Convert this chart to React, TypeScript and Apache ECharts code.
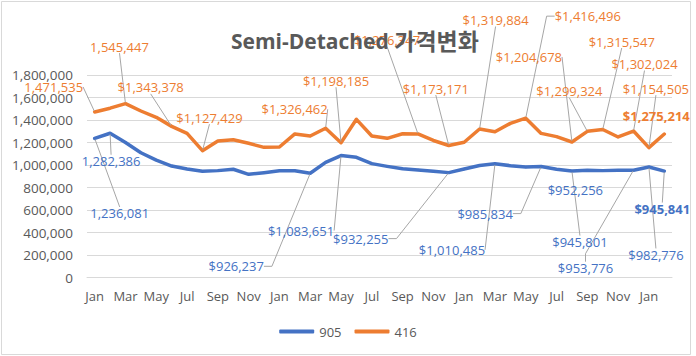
import { useEffect, useRef } from 'react';
import * as echarts from 'echarts';

const MONTHS = ['Jan', 'Feb', 'Mar', 'Apr', 'May', 'Jun', 'Jul', 'Aug', 'Sep', 'Oct', 'Nov', 'Dec'];
const categories: string[] = Array.from({ length: 38 }, (_, i) => MONTHS[i % 12]);

const TITLE_EN = 'Semi-Detached';
const TITLE_KO = '가격변화';
const seriesNames = ['905', '416'];

const values905 = [
  1236081, 1282386, 1200000, 1109000, 1044000, 991000, 964000, 944000, 950000, 962000, 917000, 932000,
  949000, 949000, 926237, 1024000, 1083651, 1068000, 1012000, 988000, 967000, 956000, 944000, 932255,
  964000, 996000, 1010485, 994000, 982000, 985834, 962000, 945801, 952256, 950000, 953000, 953776,
  982776, 945841,
];

const values416 = [
  1471535, 1505000, 1545447, 1480000, 1424000, 1343378, 1281000, 1127429, 1213000, 1225000, 1193000, 1157000,
  1160000, 1276000, 1258000, 1326462, 1198185, 1406000, 1258000, 1237000, 1278000, 1276347, 1218000, 1173171,
  1202000, 1319884, 1296000, 1370000, 1416496, 1281000, 1252000, 1204678, 1299324, 1315547, 1249000, 1302024,
  1154505, 1275214,
];

const yMin = 0;
const yMax = 1800000;
const yStep = 200000;

// label placement (styling): [dataIndex, dx, dy, dollar, bold, leader, hookLength]
type LabelCfg = [number, number, number, boolean, boolean, boolean, number];
const labels416: LabelCfg[] = [
  [0, -41, -25, false, false, true, 0],
  [2, -6, -57, false, false, true, 0],
  [5, -21, -39, true, false, true, 0],
  [7, 7, -33, true, false, true, 0],
  [15, -31, -19, true, false, true, 0],
  [16, -5, -62, true, false, true, 0],
  [21, -31, -94, true, false, true, 0],
  [23, -13, -57, true, false, true, 0],
  [25, 16, -109, true, false, true, 0],
  [28, 62, -102, true, false, true, 8],
  [31, -43, -85, true, false, true, 0],
  [32, -18, -40, true, false, true, 0],
  [33, 19, -88, true, false, true, 0],
  [35, 11, -67, true, false, true, 0],
  [36, 7, -59, true, false, true, 0],
  [37, -8, -18, true, true, false, 0],
];
const labels905: LabelCfg[] = [
  [0, 25, 75, false, false, true, 0],
  [1, 1, 28, false, false, true, 0],
  [14, -74, 93, true, false, true, 8],
  [16, -40, 75, true, false, true, 0],
  [23, -88, 66, true, false, true, 8],
  [26, -43, 86, true, false, true, 0],
  [29, -56, 47, true, false, true, 8],
  [31, 8, 71, true, false, true, 0],
  [32, -12, 20, true, false, false, 0],
  [35, -48, 98, true, false, true, 8],
  [36, 7, 88, true, false, true, 0],
  [37, -2, 38, true, true, true, 0],
];

const FONT = "'Open Sans', 'Noto Sans CJK KR', sans-serif";
const GRAY_TEXT = '#595959';
const GRID_COLOR = '#D9D9D9';
const BLUE = '#4472C4';
const ORANGE = '#ED7D31';

function buildData(values: number[], cfgs: LabelCfg[], color: string) {
  const map = new Map<number, LabelCfg>();
  cfgs.forEach((c) => map.set(c[0], c));
  return values.map((v, i) => {
    const c = map.get(i);
    if (!c) return { value: v, label: { show: false }, labelLine: { show: false } };
    const text = (c[3] ? '$' : '') + v.toLocaleString('en-US');
    return {
      value: v,
      label: {
        show: true,
        formatter: text,
        fontWeight: c[4] ? 'bold' : 'normal',
        color,
      },
      labelLine: { show: c[5], length2: c[6] },
    };
  });
}

function layoutFor(cfgs: LabelCfg[]) {
  const map = new Map<number, LabelCfg>();
  cfgs.forEach((c) => map.set(c[0], c));
  return (p: any) => {
    const c = map.get(p.dataIndex);
    return c ? { dx: c[1], dy: c[2] } : {};
  };
}

export default function App() {
  const ref = useRef<HTMLDivElement>(null);
  useEffect(() => {
    if (!ref.current) return;
    const chart = echarts.init(ref.current, undefined, { renderer: 'svg' });
    const commonLabel = {
      position: 'inside',
      fontSize: 13,
      fontFamily: FONT,
      textBorderColor: 'transparent',
      textBorderWidth: 0,
    };
    const commonLine = {
      lineStyle: { color: '#A6A6A6', width: 1 },
      smooth: false,
    };
    chart.setOption({
      animation: false,
      backgroundColor: '#ffffff',
      title: {
        text: `{en|${TITLE_EN}} {ko|${TITLE_KO}}`,
        left: 226,
        top: 24,
        textStyle: {
          fontFamily: FONT,
          fontSize: 21,
          fontWeight: 'bold',
          color: GRAY_TEXT,
          rich: {
            en: { fontFamily: FONT, fontSize: 21, fontWeight: 'bold', color: GRAY_TEXT },
            ko: { fontFamily: FONT, fontSize: 23, fontWeight: 'bold', color: GRAY_TEXT },
          },
        },
      },
      legend: {
        data: seriesNames,
        left: 'center',
        top: 320,
        icon: 'roundRect',
        itemWidth: 35,
        itemHeight: 4,
        itemGap: 13,
        textStyle: { fontFamily: FONT, fontSize: 13, color: GRAY_TEXT },
      },
      grid: { left: 87, right: 24, top: 75, bottom: 78.5, containLabel: false },
      xAxis: {
        type: 'category',
        data: categories,
        boundaryGap: true,
        axisLine: { show: true, lineStyle: { color: GRID_COLOR, width: 1 } },
        axisTick: { show: false },
        axisLabel: { interval: 1, margin: 12, fontFamily: FONT, fontSize: 13, color: GRAY_TEXT },
      },
      yAxis: {
        type: 'value',
        min: yMin,
        max: yMax,
        interval: yStep,
        axisLine: { show: false },
        axisTick: { show: false },
        splitLine: { lineStyle: { color: GRID_COLOR, width: 1 } },
        axisLabel: {
          margin: 14,
          fontFamily: FONT,
          fontSize: 13.5,
          color: GRAY_TEXT,
          formatter: (v: number) => v.toLocaleString('en-US'),
        },
      },
      graphic: [
        {
          type: 'rect',
          silent: true,
          shape: { x: 1.5, y: 1.5, width: 689, height: 353 },
          style: { fill: 'none', stroke: GRID_COLOR, lineWidth: 1 },
        },
      ],
      series: [
        {
          name: seriesNames[0],
          type: 'line',
          data: buildData(values905, labels905, BLUE),
          color: BLUE,
          symbol: 'circle',
          symbolSize: 2,
          showSymbol: true,
          lineStyle: { width: 3.5, color: BLUE, cap: 'round', join: 'round' },
          itemStyle: { color: BLUE },
          label: { ...commonLabel, color: BLUE },
          labelLine: commonLine,
          labelLayout: layoutFor(labels905),
        },
        {
          name: seriesNames[1],
          type: 'line',
          data: buildData(values416, labels416, ORANGE),
          color: ORANGE,
          symbol: 'circle',
          symbolSize: 2,
          showSymbol: true,
          lineStyle: { width: 3.5, color: ORANGE, cap: 'round', join: 'round' },
          itemStyle: { color: ORANGE },
          label: { ...commonLabel, color: ORANGE },
          labelLine: commonLine,
          labelLayout: layoutFor(labels416),
        },
      ],
    });
    return () => chart.dispose();
  }, []);
  return (
    <div
      ref={ref}
      style={{ position: 'fixed', left: 0, top: 0, width: 696, height: 356, background: '#fff' }}
    />
  );
}
